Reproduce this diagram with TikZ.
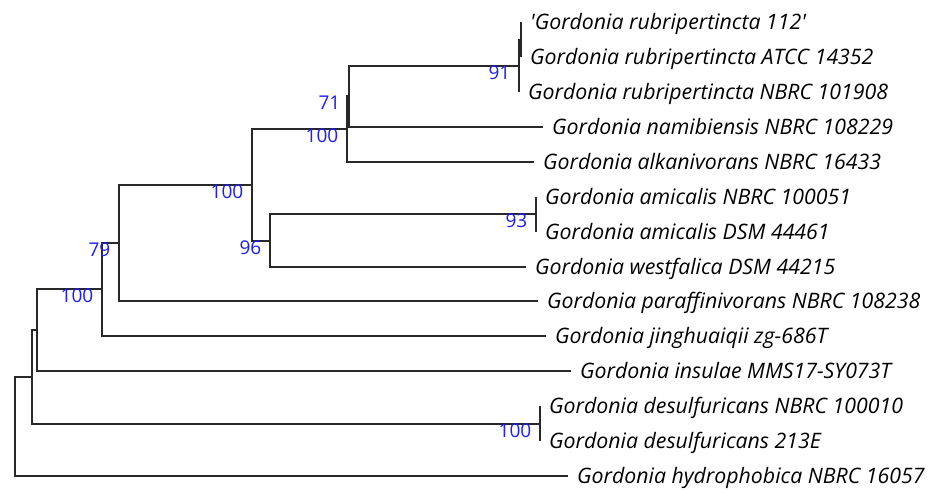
\documentclass[tikz,border=0pt]{standalone}
\usepackage{fontspec}
\setmainfont{Open Sans}
\definecolor{supblue}{RGB}{30,30,245}
\definecolor{branchgray}{RGB}{40,40,40}
\begin{document}
\begin{tikzpicture}[x=1pt,y=-1pt,
  branch/.style={draw=branchgray, line width=2pt},
  leaf/.style={anchor=west, inner xsep=9pt, inner ysep=0pt,
    font=\itshape\fontsize{21.3}{21.3}\selectfont, text height=15.2pt, text depth=0pt},
  support/.style={anchor=east, inner sep=0pt, text=supblue,
    font=\fontsize{19}{19}\selectfont, text height=13.6pt, text depth=0pt}]
% canvas
\fill[white] (0,0) rectangle (935,490);
\useasboundingbox (0,0) rectangle (935,490);

% internal nodes
\coordinate (H)  at (521,40);
\coordinate (G)  at (519,66);
\coordinate (F)  at (349,96);
\coordinate (D)  at (347,129);
\coordinate (I)  at (536,214);
\coordinate (E)  at (270,241);
\coordinate (C)  at (252,185);
\coordinate (B)  at (119,243);
\coordinate (A)  at (102,289);
\coordinate (N2) at (37,330);
\coordinate (J)  at (540,424);
\coordinate (N1) at (32,377);
\coordinate (R)  at (15,426);

% taxa
\node[leaf] (L1)  at (521,22)  {\textquotesingle Gordonia rubripertincta 112\textquotesingle};
\node[leaf] (L2)  at (521,57)  {Gordonia rubripertincta ATCC 14352};
\node[leaf] (L3)  at (519,92)  {Gordonia rubripertincta NBRC 101908};
\node[leaf] (L4)  at (543,127) {Gordonia namibiensis NBRC 108229};
\node[leaf] (L5)  at (534,162) {Gordonia alkanivorans NBRC 16433};
\node[leaf] (L6)  at (536,197) {Gordonia amicalis NBRC 100051};
\node[leaf] (L7)  at (536,232) {Gordonia amicalis DSM 44461};
\node[leaf] (L8)  at (526,267) {Gordonia westfalica DSM 44215};
\node[leaf] (L9)  at (538,301) {Gordonia paraffinivorans NBRC 108238};
\node[leaf] (L10) at (546,336) {Gordonia jinghuaiqii zg-686T};
\node[leaf] (L11) at (571,371) {Gordonia insulae MMS17-SY073T};
\node[leaf] (L12) at (540,406) {Gordonia desulfuricans NBRC 100010};
\node[leaf] (L13) at (540,441) {Gordonia desulfuricans 213E};
\node[leaf] (L14) at (568,476) {Gordonia hydrophobica NBRC 16057};

% branches
\draw[branch] (R) |- (N1);  \draw[branch] (R) |- (L14.west);
\draw[branch] (N1) |- (N2); \draw[branch] (N1) |- (J);
\draw[branch] (N2) |- (A);  \draw[branch] (N2) |- (L11.west);
\draw[branch] (A) |- (B);   \draw[branch] (A) |- (L10.west);
\draw[branch] (B) |- (C);   \draw[branch] (B) |- (L9.west);
\draw[branch] (C) |- (D);   \draw[branch] (C) |- (E);
\draw[branch] (D) |- (F);   \draw[branch] (D) |- (L5.west);
\draw[branch] (F) |- (G);   \draw[branch] (F) |- (L4.west);
\draw[branch] (G) |- (H);   \draw[branch] (G) |- (L3.west);
\draw[branch] (H) |- (L1.west); \draw[branch] (H) |- (L2.west);
\draw[branch] (E) |- (I);   \draw[branch] (E) |- (L8.west);
\draw[branch] (I) |- (L6.west); \draw[branch] (I) |- (L7.west);
\draw[branch] (J) |- (L12.west); \draw[branch] (J) |- (L13.west);

% bootstrap support
\node[support] (sG) at ([shift={(-8.5,6.5)}]G) {91};
\node[support] (sF) at ([shift={(-8.5,6.5)}]F) {71};
\node[support] (sD) at ([shift={(-8.5,6.5)}]D) {100};
\node[support] (sC) at ([shift={(-8.5,6.5)}]C) {100};
\node[support] (sE) at ([shift={(-8.5,6.5)}]E) {96};
\node[support] (sI) at ([shift={(-8.5,6.5)}]I) {93};
\node[support] (sB) at ([shift={(-8.5,6.5)}]B) {79};
\node[support] (sA) at ([shift={(-8.5,6.5)}]A) {100};
\node[support] (sJ) at ([shift={(-8.5,6.5)}]J) {100};
\end{tikzpicture}
\end{document}
